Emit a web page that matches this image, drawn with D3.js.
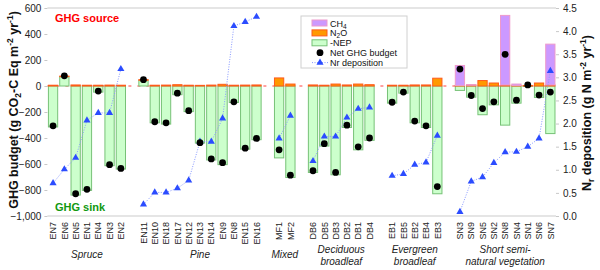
<!DOCTYPE html>
<html>
<head>
<meta charset="utf-8">
<script src="https://cdn.jsdelivr.net/npm/d3@7"></script>
<style>
  body { margin: 0; background: #fff; }
  svg { font-family: Arial, "Liberation Sans", sans-serif; display: block; }
</style>
</head>
<body>
<script>
// Sites, in plotting order
const sites = ["EN7","EN6","EN5","EN1","EN4","EN3","EN2",
  "EN11","EN10","EN18","EN17","EN12","EN13","EN14","EN9","EN8","EN15","EN16",
  "MF1","MF2",
  "DB6","DB5","DB3","DB2","DB1","DB4",
  "EB1","EB5","EB2","EB4","EB3",
  "SN3","SN9","SN5","SN2","SN8","SN4","SN1","SN6","SN7"];
const groupNames = [["Spruce"], ["Pine"], ["Mixed"], ["Deciduous", "broadleaf"],
  ["Evergreen", "broadleaf"], ["Short semi-", "natural vegetation"]];
const groupCounts = [7, 11, 2, 6, 5, 9];

// GHG components (g CO2-C Eq m-2 yr-1)
const negNEP = [-315,72,-839,-803,-47,-613,-639,
  44,-283,-293,-67,-197,-439,-569,-605,-127,-486,-413,
  -553,-704,
  -665,-462,-683,-319,-491,-418,
  -132,-55,-283,-319,-829,
  -34,-86,-221,-145,-301,-132,-2,-88,-366];
const n2o = [6,4,8,6,6,7,6,
  5,6,7,10,6,5,7,13,6,7,8,
  62,15,
  8,6,15,8,15,10,
  6,6,8,8,60,
  4,8,42,23,8,4,4,23,8];
const ch4 = [0,0,0,0,0,0,0,
  0,0,0,0,0,0,0,0,0,0,0,
  0,0,
  0,0,0,0,0,0,
  0,0,0,0,0,
  154,2,0,0,535,11,0,0,314];
const netGHG = [-306,78,-829,-795,-39,-605,-634,
  49,-275,-283,-55,-190,-436,-561,-590,-122,-478,-403,
  -491,-686,
  -652,-444,-665,-301,-468,-400,
  -125,-47,-270,-306,-774,
  130,-73,-174,-122,244,-109,8,-70,-47];
// Nr deposition (g N m-2 yr-1)
const nrDep = [0.71,1.01,1.26,2.07,2.23,2.23,3.18,
  0.25,0.51,0.51,0.60,0.77,1.61,1.61,2.11,4.11,4.20,4.31,
  1.68,2.17,
  1.19,1.72,1.72,2.13,2.32,2.35,
  0.87,0.91,1.11,1.16,1.74,
  0.09,0.75,0.84,1.15,1.38,1.39,1.50,1.68,3.14];

const leftTicks = [600,400,200,0,-200,-400,-600,-800,-1000];
const rightTicks = [0,0.5,1,1.5,2,2.5,3,3.5,4,4.5];

const w = 600, h = 270;
const svg = d3.select("body").append("svg").attr("width", w).attr("height", h);

// build rows and slot domain (one empty slot between groups)
const rows = [];
const slots = [];
let k = 0;
groupCounts.forEach((n, g) => {
  if (g > 0) slots.push("gap" + g);
  for (let j = 0; j < n; j++, k++) {
    rows.push({site: sites[k], group: g, nep: negNEP[k], n2o: n2o[k], ch4: ch4[k], net: netGHG[k], nr: nrDep[k]});
    slots.push(sites[k]);
  }
});

const x = d3.scaleBand().domain(slots).range([47.4, 556]).paddingInner(0.18).paddingOuter(0.09);
const y = d3.scaleLinear().domain([-1000, 600]).range([216, 8]);
const y2 = d3.scaleLinear().domain([0, 4.5]).range([216, 8]);
const cx = d => x(d.site) + x.bandwidth() / 2;

// frame lines
svg.append("line").attr("x1", 47.4).attr("x2", 556).attr("y1", 8).attr("y2", 8)
  .attr("stroke", "#dcdcdc").attr("stroke-width", 1.5);
svg.append("line").attr("x1", 47.4).attr("x2", 556).attr("y1", 216).attr("y2", 216)
  .attr("stroke", "#dcdcdc").attr("stroke-width", 1.5);

// dashed zero line
svg.append("line").attr("x1", 47.4).attr("x2", 556).attr("y1", y(0)).attr("y2", y(0))
  .attr("stroke", "#ff4040").attr("stroke-width", 1).attr("stroke-dasharray", "3,6");

// axes
const axL = svg.append("g").attr("transform", "translate(47.4,0)")
  .call(d3.axisLeft(y).tickValues(leftTicks).tickSize(3).tickPadding(3));
const axR = svg.append("g").attr("transform", "translate(556,0)")
  .call(d3.axisRight(y2).tickValues(rightTicks).tickSize(3).tickPadding(4).tickFormat(d3.format(".1f")));
[axL, axR].forEach(a => {
  a.select(".domain").remove();
  a.selectAll(".tick line").attr("stroke", "#c8c8c8");
  a.selectAll("text").attr("font-size", 10).attr("fill", "#222");
});

// stacked bars
const keys = ["nep", "n2o", "ch4"];
const fills = {nep: "#ccffcc", n2o: "#ff9900", ch4: "#cc99ff"};
const strokes = {nep: "#77c277", n2o: "#ff5a1a", ch4: "#ee99cc"};
const series = d3.stack().keys(keys).offset(d3.stackOffsetDiverging)(rows);
svg.append("g").selectAll("g").data(series).enter().append("g")
  .attr("fill", s => fills[s.key]).attr("stroke", s => strokes[s.key]).attr("stroke-width", 1)
  .selectAll("rect").data(s => s.filter(d => d[1] !== d[0])).enter().append("rect")
  .attr("x", d => x(d.data.site))
  .attr("width", x.bandwidth())
  .attr("y", d => y(Math.max(d[0], d[1])))
  .attr("height", d => Math.max(0.5, Math.abs(y(d[0]) - y(d[1]))));

// Nr deposition lines per group
const line = d3.line().x(cx).y(d => y2(d.nr));
svg.append("g").selectAll("path").data(d3.groups(rows, d => d.group)).enter().append("path")
  .attr("d", d => line(d[1]))
  .attr("fill", "none").attr("stroke", "#8899ff").attr("stroke-width", 1).attr("stroke-dasharray", "1,1.5");
const tri = d3.symbol().type(d3.symbolTriangle).size(22);
svg.append("g").selectAll("path").data(rows).enter().append("path")
  .attr("d", tri)
  .attr("transform", d => `translate(${cx(d)},${y2(d.nr)})`)
  .attr("fill", "#2b4cff");

// Net GHG budget dots
svg.append("g").selectAll("circle").data(rows).enter().append("circle")
  .attr("cx", cx).attr("cy", d => y(d.net)).attr("r", 3.4).attr("fill", "#000");

// site labels
svg.append("g").selectAll("text").data(rows).enter().append("text")
  .attr("transform", d => `translate(${cx(d) + 3.2},222) rotate(-90)`)
  .attr("text-anchor", "end").attr("font-size", 9).attr("fill", "#222")
  .text(d => d.site);

// group labels
let start = 0;
groupCounts.forEach((n, g) => {
  const first = sites[start], last = sites[start + n - 1];
  const mid = (x(first) + x(last) + x.bandwidth()) / 2;
  const lines = groupNames[g];
  const baseY = lines.length === 1 ? 257.5 : 252.5;
  lines.forEach((t, i) => {
    svg.append("text").attr("x", mid).attr("y", baseY + i * 12)
      .attr("text-anchor", "middle").attr("font-size", 10).attr("font-style", "italic").attr("fill", "#222")
      .text(t);
  });
  start += n;
});

// source / sink labels
svg.append("text").attr("x", 55).attr("y", 22).attr("font-size", 11).attr("font-weight", "bold")
  .attr("fill", "#ff0000").text("GHG source");
svg.append("text").attr("x", 55).attr("y", 211).attr("font-size", 11).attr("font-weight", "bold")
  .attr("fill", "#119911").text("GHG sink");

// axis titles
const tl = svg.append("text").attr("transform", "translate(18,110) rotate(-90)")
  .attr("text-anchor", "middle").attr("font-size", 12.5).attr("font-weight", "bold").attr("fill", "#111");
tl.append("tspan").text("GHG budget (g CO");
tl.append("tspan").attr("font-size", 8.5).attr("dy", 3).text("2");
tl.append("tspan").attr("dy", -3).text("-C Eq m");
tl.append("tspan").attr("font-size", 8.5).attr("dy", -5).text("-2");
tl.append("tspan").attr("dy", 5).text(" yr");
tl.append("tspan").attr("font-size", 8.5).attr("dy", -5).text("-1");
tl.append("tspan").attr("dy", 5).text(")");

const tr = svg.append("text").attr("transform", "translate(591,113) rotate(-90)")
  .attr("text-anchor", "middle").attr("font-size", 12.5).attr("font-weight", "bold").attr("fill", "#111");
tr.append("tspan").text("N");
tr.append("tspan").attr("font-size", 8.5).attr("dy", 3).text("r");
tr.append("tspan").attr("dy", -3).text(" deposition (g N m");
tr.append("tspan").attr("font-size", 8.5).attr("dy", -5).text("-2");
tr.append("tspan").attr("dy", 5).text(" yr");
tr.append("tspan").attr("font-size", 8.5).attr("dy", -5).text("-1");
tr.append("tspan").attr("dy", 5).text(")");

// legend
const step = 9.9;
const lg = svg.append("g").attr("transform", "translate(301,16)");
lg.append("rect").attr("width", 106).attr("height", 52).attr("fill", "#fff").attr("stroke", "#d0d0d0");
const legItems = [
  {key: "ch4", label: ["CH", "4"]},
  {key: "n2o", label: ["N", "2", "O"]},
  {key: "nep", label: ["-NEP"]}
];
legItems.forEach((it, i) => {
  const yy = 4 + i * step;
  lg.append("rect").attr("x", 11).attr("y", yy).attr("width", 15).attr("height", 6)
    .attr("fill", fills[it.key]).attr("stroke", strokes[it.key]);
  const t = lg.append("text").attr("x", 29).attr("y", yy + 6.5).attr("font-size", 9).attr("fill", "#111");
  it.label.forEach((s, j) => {
    const ts = t.append("tspan").text(s);
    if (j === 1) ts.attr("font-size", 6.5).attr("dy", 2);
    if (j === 2) ts.attr("dy", -2);
  });
});
lg.append("circle").attr("cx", 19).attr("cy", 4 + 3 * step + 3).attr("r", 3.4).attr("fill", "#000");
lg.append("text").attr("x", 29).attr("y", 4 + 3 * step + 6.5).attr("font-size", 9).attr("fill", "#111").text("Net GHG budget");
lg.append("line").attr("x1", 11).attr("x2", 27).attr("y1", 4 + 4 * step + 3).attr("y2", 4 + 4 * step + 3)
  .attr("stroke", "#8899ff").attr("stroke-dasharray", "1,1.5");
lg.append("path").attr("d", tri).attr("transform", `translate(19,${4 + 4 * step + 3})`).attr("fill", "#2b4cff");
lg.append("text").attr("x", 29).attr("y", 4 + 4 * step + 6.5).attr("font-size", 9).attr("fill", "#111").text("Nr deposition");
</script>
</body>
</html>
